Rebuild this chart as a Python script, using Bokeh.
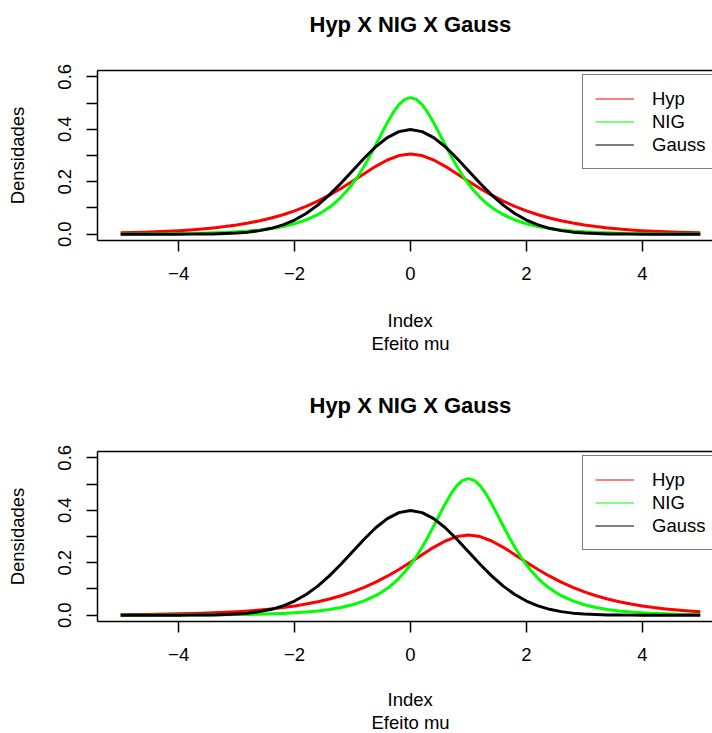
from bokeh.plotting import figure
from bokeh.models import (Range1d, LinearAxis, FixedTicker, Title, Legend,
                          LegendItem, ColumnDataSource)
from bokeh.layouts import column
from bokeh.embed import file_html
from bokeh.resources import INLINE

# ---------------- data ----------------
x_vals = [-5.0, -4.8, -4.6, -4.4, -4.2, -4.0, -3.8, -3.6, -3.4, -3.2,
          -3.0, -2.8, -2.6, -2.4, -2.2, -2.0, -1.8, -1.6, -1.4, -1.2,
          -1.0, -0.8, -0.6, -0.4, -0.2, 0.0, 0.2, 0.4, 0.6, 0.8,
          1.0, 1.2, 1.4, 1.6, 1.8, 2.0, 2.2, 2.4, 2.6, 2.8,
          3.0, 3.2, 3.4, 3.6, 3.8, 4.0, 4.2, 4.4, 4.6, 4.8, 5.0]

# panel 1 (mu = 0)
hyp_mu0 = [0.0051, 0.0062, 0.0075, 0.0091, 0.0111, 0.0135, 0.0163, 0.0198, 0.0240, 0.0291,
           0.0352, 0.0425, 0.0513, 0.0617, 0.0741, 0.0888, 0.1060, 0.1259, 0.1487, 0.1742,
           0.2020, 0.2308, 0.2588, 0.2829, 0.2996, 0.3056, 0.2996, 0.2829, 0.2588, 0.2308,
           0.2020, 0.1742, 0.1487, 0.1259, 0.1060, 0.0888, 0.0741, 0.0617, 0.0513, 0.0425,
           0.0352, 0.0291, 0.0240, 0.0198, 0.0163, 0.0135, 0.0111, 0.0091, 0.0075, 0.0062, 0.0051]
gauss_mu0 = [0.0000, 0.0000, 0.0000, 0.0000, 0.0000, 0.0001, 0.0003, 0.0006, 0.0012, 0.0024,
             0.0044, 0.0079, 0.0136, 0.0224, 0.0355, 0.0540, 0.0790, 0.1109, 0.1497, 0.1942,
             0.2420, 0.2897, 0.3332, 0.3683, 0.3910, 0.3989, 0.3910, 0.3683, 0.3332, 0.2897,
             0.2420, 0.1942, 0.1497, 0.1109, 0.0790, 0.0540, 0.0355, 0.0224, 0.0136, 0.0079,
             0.0044, 0.0024, 0.0012, 0.0006, 0.0003, 0.0001, 0.0000, 0.0000, 0.0000, 0.0000, 0.0000]

nig_x_mu0 = [-5.0, -4.8, -4.6, -4.4, -4.2, -4.0, -3.8, -3.6, -3.4, -3.2,
             -3.0, -2.8, -2.6, -2.4, -2.2, -2.0, -1.8,
             -1.6, -1.5, -1.4, -1.3, -1.2, -1.1, -1.0, -0.9, -0.8, -0.7,
             -0.6, -0.5, -0.4, -0.3, -0.2, -0.1, 0.0, 0.1, 0.2, 0.3,
             0.4, 0.5, 0.6, 0.7, 0.8, 0.9, 1.0, 1.1, 1.2, 1.3,
             1.4, 1.5, 1.6,
             1.8, 2.0, 2.2, 2.4, 2.6, 2.8, 3.0, 3.2, 3.4, 3.6,
             3.8, 4.0, 4.2, 4.4, 4.6, 4.8, 5.0]
nig_mu0 = [0.0006, 0.0008, 0.0010, 0.0013, 0.0017, 0.0023, 0.0030, 0.0039, 0.0052, 0.0068,
           0.0091, 0.0121, 0.0162, 0.0217, 0.0294, 0.0398, 0.0544,
           0.0745, 0.0873, 0.1024, 0.1200, 0.1406, 0.1646, 0.1922, 0.2238, 0.2593, 0.2983,
           0.3401, 0.3831, 0.4252, 0.4632, 0.4939, 0.5139, 0.5208, 0.5139, 0.4939, 0.4632,
           0.4252, 0.3831, 0.3401, 0.2983, 0.2593, 0.2238, 0.1922, 0.1646, 0.1406, 0.1200,
           0.1024, 0.0873, 0.0745,
           0.0544, 0.0398, 0.0294, 0.0217, 0.0162, 0.0121, 0.0091, 0.0068, 0.0052, 0.0039,
           0.0030, 0.0023, 0.0017, 0.0013, 0.0010, 0.0008, 0.0006]

# panel 2 (mu = 1 for Hyp and NIG)
hyp_mu1 = [0.0019, 0.0023, 0.0028, 0.0034, 0.0042, 0.0051, 0.0062, 0.0075, 0.0091, 0.0111,
           0.0135, 0.0163, 0.0198, 0.0240, 0.0291, 0.0352, 0.0425, 0.0513, 0.0617, 0.0741,
           0.0888, 0.1060, 0.1259, 0.1487, 0.1742, 0.2020, 0.2308, 0.2588, 0.2829, 0.2996,
           0.3056, 0.2996, 0.2829, 0.2588, 0.2308, 0.2020, 0.1742, 0.1487, 0.1259, 0.1060,
           0.0888, 0.0741, 0.0617, 0.0513, 0.0425, 0.0352, 0.0291, 0.0240, 0.0198, 0.0163, 0.0135]
gauss_mu1 = list(gauss_mu0)

nig_x_mu1 = [-5.0, -4.8, -4.6, -4.4, -4.2, -4.0, -3.8, -3.6, -3.4, -3.2,
             -3.0, -2.8, -2.6, -2.4, -2.2, -2.0, -1.8, -1.6, -1.4, -1.2,
             -1.0, -0.8,
             -0.6, -0.5, -0.4, -0.3, -0.2, -0.1, 0.0, 0.1, 0.2, 0.3,
             0.4, 0.5, 0.6, 0.7, 0.8, 0.9, 1.0, 1.1, 1.2, 1.3,
             1.4, 1.5, 1.6, 1.7, 1.8, 1.9, 2.0, 2.1, 2.2, 2.3,
             2.4, 2.5, 2.6,
             2.8, 3.0, 3.2, 3.4, 3.6, 3.8, 4.0, 4.2, 4.4, 4.6, 4.8, 5.0]
nig_mu1 = [0.0002, 0.0002, 0.0003, 0.0004, 0.0005, 0.0006, 0.0008, 0.0010, 0.0013, 0.0017,
           0.0023, 0.0030, 0.0039, 0.0052, 0.0068, 0.0091, 0.0121, 0.0162, 0.0217, 0.0294,
           0.0398, 0.0544,
           0.0745, 0.0873, 0.1024, 0.1200, 0.1406, 0.1646, 0.1922, 0.2238, 0.2593, 0.2983,
           0.3401, 0.3831, 0.4252, 0.4632, 0.4939, 0.5139, 0.5208, 0.5139, 0.4939, 0.4632,
           0.4252, 0.3831, 0.3401, 0.2983, 0.2593, 0.2238, 0.1922, 0.1646, 0.1406, 0.1200,
           0.1024, 0.0873, 0.0745,
           0.0544, 0.0398, 0.0294, 0.0217, 0.0162, 0.0121, 0.0091, 0.0068, 0.0052, 0.0039,
           0.0030, 0.0023]

x_ticks = [-4, -2, 0, 2, 4]
x_tick_labels = ["\u22124", "\u22122", "0", "2", "4"]
y_ticks = [0.0, 0.1, 0.2, 0.3, 0.4, 0.5, 0.6]
y_tick_labels = ["0.0", "", "0.2", "", "0.4", "", "0.6"]

series_names = ["Hyp", "NIG", "Gauss"]
series_colors = ["#FF0000", "#00FF00", "#000000"]
title_text = "Hyp X NIG X Gauss"
x_label = "Index"
sub_label = "Efeito mu"
y_label = "Densidades"

FONT = "Liberation Sans"
FS = "18.5px"


def style_axis(ax):
    ax.axis_line_color = "black"
    ax.axis_line_width = 1.5
    ax.major_tick_line_color = "black"
    ax.major_tick_line_width = 1.5
    ax.major_tick_out = 11
    ax.major_tick_in = 0
    ax.minor_tick_line_color = None
    ax.minor_tick_out = 0
    ax.minor_tick_in = 0
    ax.major_label_text_font = FONT
    ax.major_label_text_font_size = FS
    ax.major_label_text_color = "black"


def spacer(standoff):
    # blank title used only to reserve vertical space
    return Title(text=" ", standoff=standoff, text_font_size="1px", text_color="white")


def make_panel(curves, height, border_top, border_bottom, gap_below):
    p = figure(width=712, height=height, output_backend="svg", toolbar_location=None,
               x_range=Range1d(-5.4, 5.2105), y_range=Range1d(-0.024, 0.624),
               x_axis_type=None, y_axis_type=None,
               min_border_left=97, min_border_right=0, min_border_top=border_top,
               min_border_bottom=border_bottom)
    p.title = None
    p.outline_line_color = None
    p.background_fill_color = "white"
    p.border_fill_color = "white"

    xaxis = LinearAxis(ticker=FixedTicker(ticks=x_ticks),
                       major_label_overrides=dict(zip(x_ticks, x_tick_labels)))
    style_axis(xaxis)
    xaxis.major_label_standoff = 15
    p.add_layout(xaxis, "below")

    yaxis = LinearAxis(ticker=FixedTicker(ticks=y_ticks),
                       major_label_overrides=dict(zip(y_ticks, y_tick_labels)),
                       major_label_orientation="vertical",
                       axis_label=y_label)
    style_axis(yaxis)
    yaxis.major_label_standoff = 15
    yaxis.axis_label_standoff = 28
    yaxis.axis_label_text_font = FONT
    yaxis.axis_label_text_font_size = FS
    yaxis.axis_label_text_font_style = "normal"
    yaxis.axis_label_text_color = "black"
    p.add_layout(yaxis, "left")

    # top border of the box (axis line only)
    top = LinearAxis(ticker=FixedTicker(ticks=[]))
    style_axis(top)
    top.major_tick_line_color = None
    top.major_tick_out = 0
    top.major_label_standoff = 0
    top.major_label_text_font_size = "0px"
    p.add_layout(top, "above")
    p.add_layout(spacer(31), "above")
    p.add_layout(Title(text=title_text, align="left", offset=212, standoff=0,
                       text_font=FONT, text_font_size="22px", text_font_style="bold",
                       text_color="black"), "above")

    p.add_layout(spacer(gap_below), "below")
    p.add_layout(Title(text=x_label, align="left", offset=290, standoff=0,
                       text_font=FONT, text_font_size=FS, text_font_style="normal",
                       text_color="black"), "below")
    p.add_layout(Title(text=sub_label, align="left", offset=274, standoff=0,
                       text_font=FONT, text_font_size=FS, text_font_style="normal",
                       text_color="black"), "below")

    for (xs, ys), color in zip(curves, series_colors):
        src = ColumnDataSource(dict(x=xs, y=ys))
        p.line("x", "y", source=src, line_color=color, line_width=3, line_join="round")

    items = []
    for name, color in zip(series_names, series_colors):
        r = p.line(x=[float("nan")], y=[float("nan")], line_color=color, line_width=1.2)
        items.append(LegendItem(label=name, renderers=[r]))
    legend = Legend(items=items, location=(485, 71), padding=12, spacing=0, margin=0,
                    glyph_width=39, glyph_height=23, label_height=23, label_standoff=18,
                    label_text_font=FONT, label_text_font_size=FS,
                    label_text_color="black",
                    border_line_color="black", border_line_width=1.5,
                    background_fill_color="white", background_fill_alpha=1.0)
    p.add_layout(legend, "center")
    return p


p1 = make_panel([(x_vals, hyp_mu0), (nig_x_mu0, nig_mu0), (x_vals, gauss_mu0)],
                370, 70, 130, 21.6)
p2 = make_panel([(x_vals, hyp_mu1), (nig_x_mu1, nig_mu1), (x_vals, gauss_mu1)],
                363, 81, 112, 20)

layout = column(p1, p2, spacing=0)
open("out.html", "w").write(file_html(layout, INLINE))
